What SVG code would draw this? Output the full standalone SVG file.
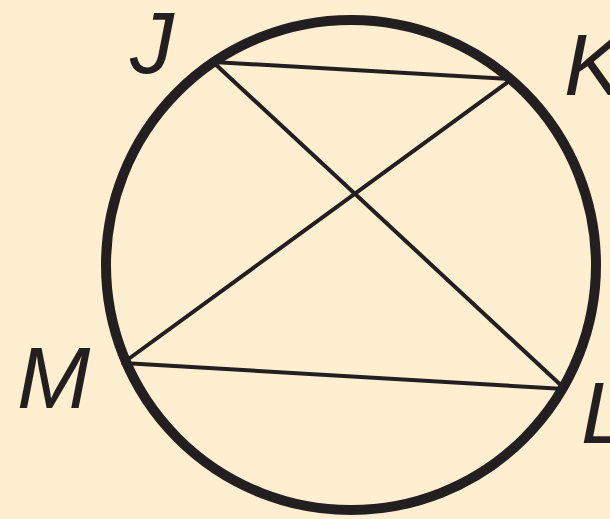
<svg xmlns="http://www.w3.org/2000/svg" width="610" height="519" viewBox="0 0 610 519">
<style>
.lbl{font-family:"Liberation Sans",Arial,sans-serif;font-style:italic;font-size:88px;fill:#231f20}
.chord{stroke:#231f20;stroke-width:4;stroke-linecap:round;fill:none}
</style>
<rect width="610" height="519" fill="#feefd1"/>
<g id="circle"><circle cx="351" cy="265" r="245" fill="none" stroke="#231f20" stroke-width="10"/></g>
<g id="connectors">
<line class="chord" x1="213" y1="62" x2="512" y2="79"/>
<line class="chord" x1="213" y1="62" x2="565" y2="389"/>
<line class="chord" x1="123" y1="363" x2="512" y2="79"/>
<line class="chord" x1="123" y1="363" x2="565" y2="389"/>
</g>
<g id="J"><text class="lbl" x="130" y="73">J</text></g>
<g id="K"><text class="lbl" x="564" y="95">K</text></g>
<g id="M"><text class="lbl" x="17" y="408">M</text></g>
<g id="L"><text class="lbl" x="581" y="443">L</text></g>
</svg>
